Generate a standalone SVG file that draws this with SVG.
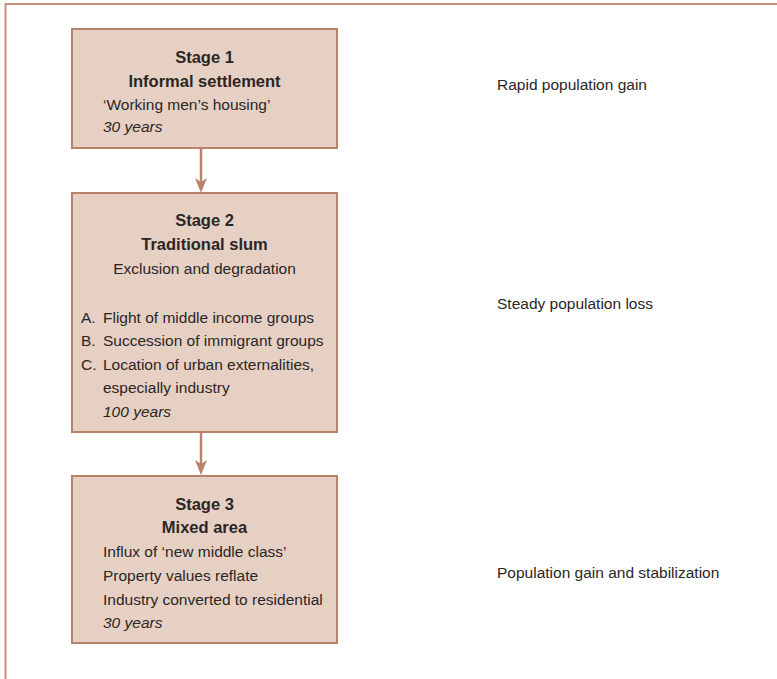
<svg xmlns="http://www.w3.org/2000/svg" width="777" height="679" viewBox="0 0 777 679">
<defs>
<style>
.box{fill:#e6d0c3;stroke:#b9826b;stroke-width:2}
.frame{fill:none;stroke:#c4907f;stroke-width:2}
text{font-family:"Liberation Sans",Arial,sans-serif;font-size:15.5px;fill:#2b2626}
.b{font-weight:bold;font-size:16.5px;text-anchor:middle}
.c{text-anchor:middle}
.i{font-style:italic}
.conn{stroke:#b9826b;stroke-width:2.5;fill:none}
.head{fill:#b9826b}
</style>
</defs>
<rect width="777" height="679" fill="#ffffff"/>
<path class="frame" d="M5.5,679 L5.5,4 L777,4"/>
<g id="connectors">
<line class="conn" x1="201" y1="148" x2="201" y2="184"/>
<path class="head" d="M201,193 L195,178 L201,182 L207,178 Z"/>
<line class="conn" x1="201" y1="432" x2="201" y2="466"/>
<path class="head" d="M201,475 L195,460 L201,464 L207,460 Z"/>
</g>
<g id="stage1">
<rect class="box" x="72" y="29" width="265" height="119"/>
<text class="b" x="204.5" y="63">Stage 1</text>
<text class="b" x="204.5" y="87">Informal settlement</text>
<text x="103" y="110">‘Working men’s housing’</text>
<text class="i" x="103" y="132">30 years</text>
</g>
<g id="stage2">
<rect class="box" x="72" y="193" width="265" height="239"/>
<text class="b" x="204.5" y="226">Stage 2</text>
<text class="b" x="204.5" y="250">Traditional slum</text>
<text class="c" x="204.5" y="274">Exclusion and degradation</text>
<text x="81" y="323">A.</text><text x="103" y="323">Flight of middle income groups</text>
<text x="81" y="346">B.</text><text x="103" y="346">Succession of immigrant groups</text>
<text x="81" y="370">C.</text><text x="103" y="370">Location of urban externalities,</text>
<text x="103" y="393">especially industry</text>
<text class="i" x="103" y="417">100 years</text>
</g>
<g id="stage3">
<rect class="box" x="72" y="476" width="265" height="167"/>
<text class="b" x="204.5" y="510">Stage 3</text>
<text class="b" x="204.5" y="533">Mixed area</text>
<text x="103" y="557">Influx of ‘new middle class’</text>
<text x="103" y="581">Property values reflate</text>
<text x="103" y="605">Industry converted to residential</text>
<text class="i" x="103" y="628">30 years</text>
</g>
<g id="labels">
<text x="497" y="90">Rapid population gain</text>
<text x="497" y="309">Steady population loss</text>
<text x="497" y="578">Population gain and stabilization</text>
</g>
</svg>
